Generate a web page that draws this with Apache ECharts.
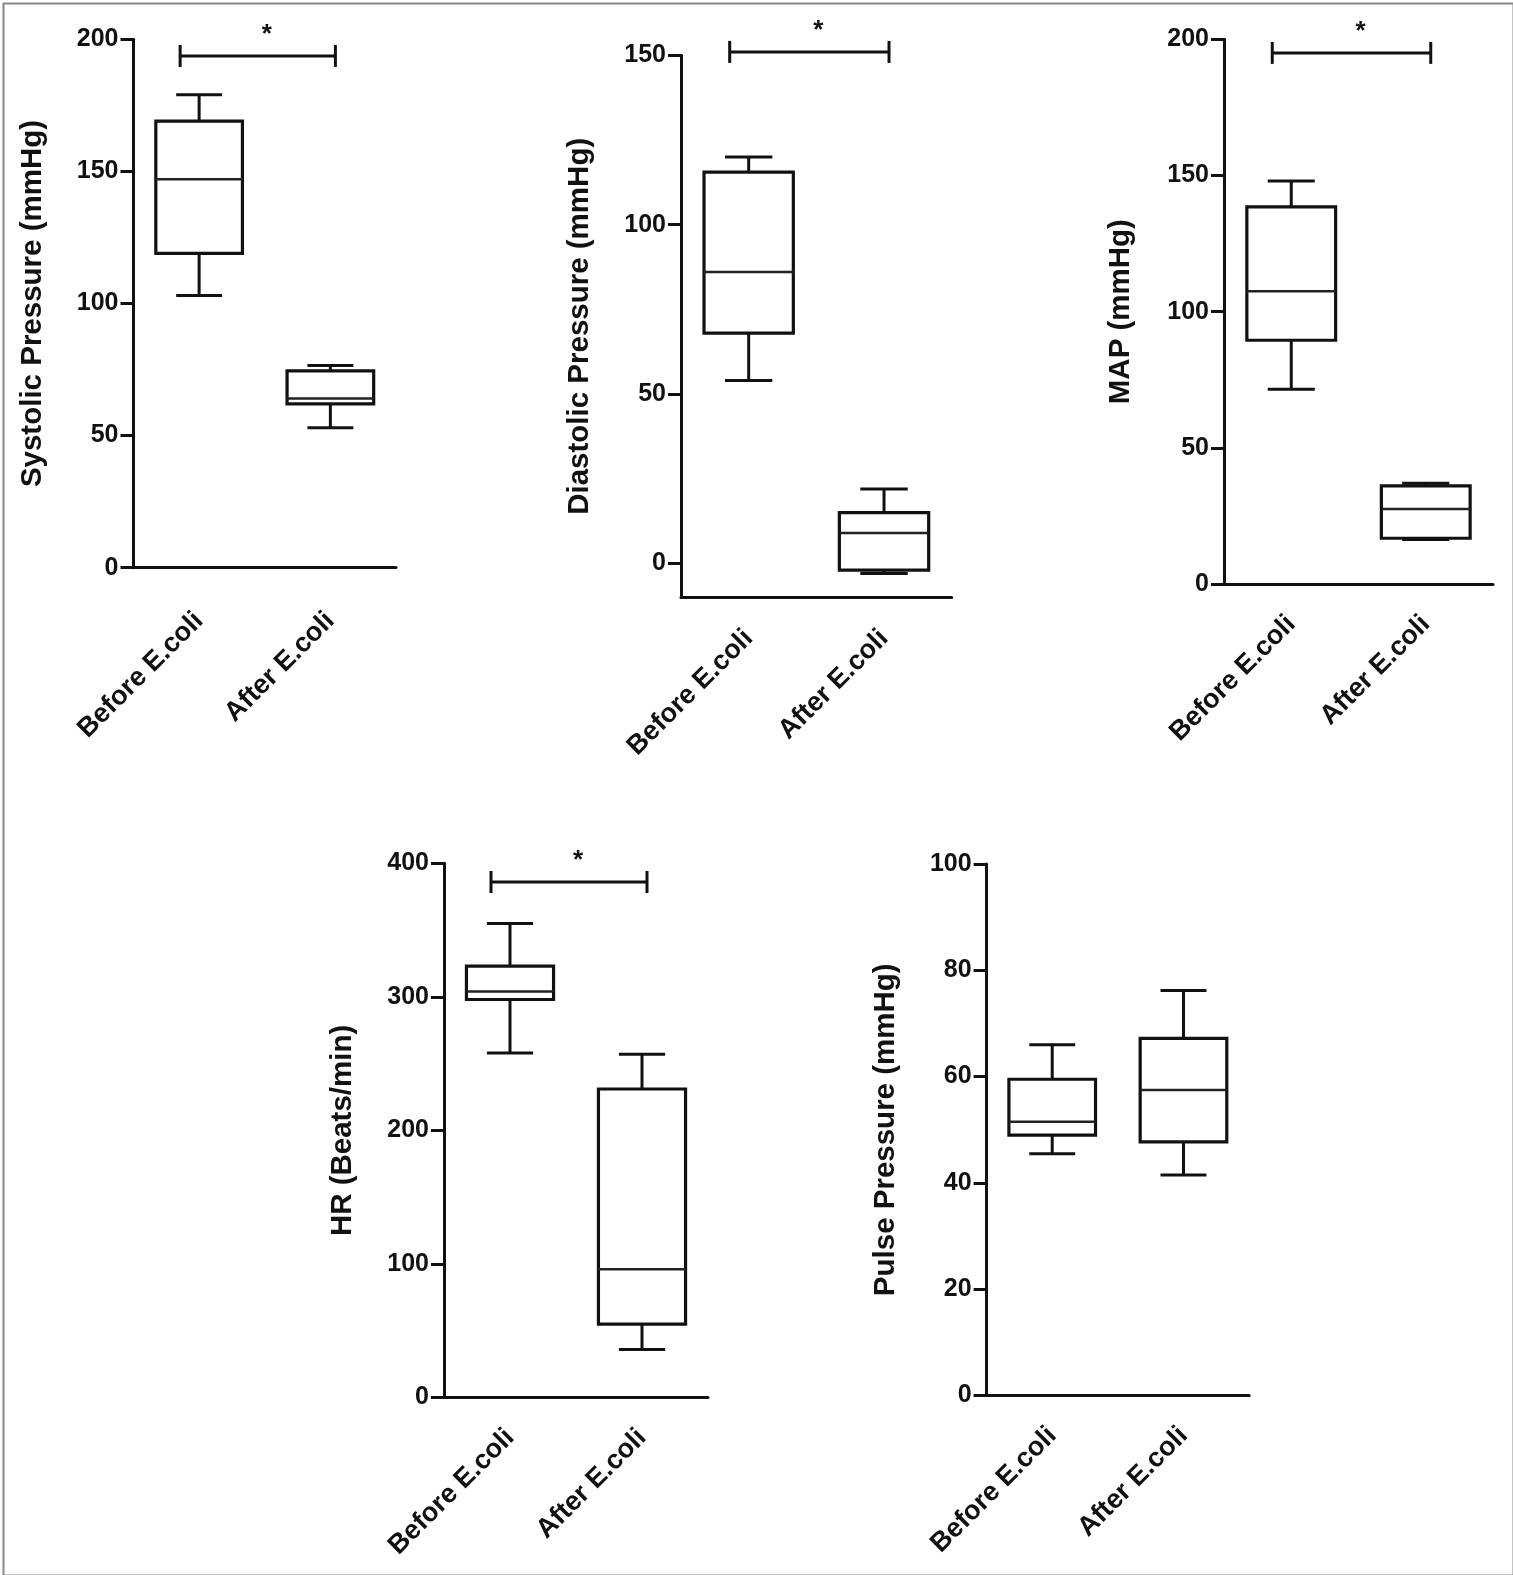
<!DOCTYPE html>
<html><head><meta charset="utf-8">
<script src="https://cdn.jsdelivr.net/npm/echarts@6/dist/echarts.min.js"></script>
<style>html,body{margin:0;padding:0;background:#fff}#c{width:1513px;height:1575px}</style>
</head><body><div id="c"></div>
<script>
// Categories
const categories = ['Before E.coli', 'After E.coli'];
// Box values: [min, Q1, median, Q3, max]
const systolicBefore = [103, 119, 147, 169, 179];
const systolicAfter = [53, 62, 64, 74.5, 76.5];
const diastolicBefore = [54, 68, 86, 115.5, 120];
const diastolicAfter = [-3, -2, 9, 15, 22];
const mapBefore = [71.5, 89.5, 107.5, 138.5, 148];
const mapAfter = [16.3, 16.8, 27.5, 36, 37];
const hrBefore = [258, 298, 304, 323, 355];
const hrAfter = [36, 55, 96, 231, 257];
const pulseBefore = [45.5, 49, 51.5, 59.5, 66];
const pulseAfter = [41.5, 47.7, 57.5, 67.2, 76.2];

// Axis titles and ticks
const yTitles = ['Systolic Pressure (mmHg)', 'Diastolic Pressure (mmHg)', 'MAP (mmHg)', 'HR (Beats/min)', 'Pulse Pressure (mmHg)'];
const yTicks1 = [0, 50, 100, 150, 200];
const yTicks2 = [0, 50, 100, 150];
const yTicks3 = [0, 50, 100, 150, 200];
const yTicks4 = [0, 100, 200, 300, 400];
const yTicks5 = [0, 20, 40, 60, 80, 100];
const yMins = [0, -10, 0, 0, 0];
// Significance bar levels (null = none)
const sigLevels = [193.7, 151, 195, 386, null];
const sigMark = '*';

const panels = [
  { before: systolicBefore, after: systolicAfter, ticks: yTicks1 },
  { before: diastolicBefore, after: diastolicAfter, ticks: yTicks2 },
  { before: mapBefore, after: mapAfter, ticks: yTicks3 },
  { before: hrBefore, after: hrAfter, ticks: yTicks4 },
  { before: pulseBefore, after: pulseAfter, ticks: yTicks5 }
];

const gridBoxes = [
  { left: 133.5, top: 39.3, width: 262.5, height: 528.4 },
  { left: 681, top: 55.3, width: 270.7, height: 542 },
  { left: 1224, top: 39.3, width: 269, height: 544.7 },
  { left: 444, top: 863.3, width: 264, height: 534.2 },
  { left: 986.6, top: 864, width: 262.5, height: 531.5 }
];
const nameGaps = [86, 86, 88, 86, 86];
const catMargins = [49, 37, 36, 36, 36];

const FONT = "'Liberation Sans', Arial, Helvetica, sans-serif";
const INK = '#111';

function renderBox(params, api) {
  const x = api.value(0);
  const c = [1, 2, 3, 4, 5].map(i => api.coord([x, api.value(i)]));
  const band = api.size([1, 0])[0];
  const half = band * 0.33;
  const cap = band * 0.175;
  const cx = c[0][0];
  const st = { stroke: INK, lineWidth: 3, fill: null };
  return {
    type: 'group',
    children: [
      { type: 'line', shape: { x1: cx, y1: c[0][1], x2: cx, y2: c[1][1] }, style: st },
      { type: 'line', shape: { x1: cx, y1: c[3][1], x2: cx, y2: c[4][1] }, style: st },
      { type: 'line', shape: { x1: cx - cap, y1: c[0][1], x2: cx + cap, y2: c[0][1] }, style: st },
      { type: 'line', shape: { x1: cx - cap, y1: c[4][1], x2: cx + cap, y2: c[4][1] }, style: st },
      { type: 'rect', shape: { x: cx - half, y: c[3][1], width: 2 * half, height: c[1][1] - c[3][1] }, style: { stroke: INK, lineWidth: 3.2, fill: '#fff' } },
      { type: 'line', shape: { x1: cx - half, y1: c[2][1], x2: cx + half, y2: c[2][1] }, style: { stroke: '#222', lineWidth: 2.5 } }
    ]
  };
}

function renderSig(params, api) {
  const p0 = api.coord([api.value(0), api.value(2)]);
  const p1 = api.coord([api.value(1), api.value(2)]);
  const x1 = p0[0] - 19, x2 = p1[0] + 5, y = p0[1];
  const st = { stroke: INK, lineWidth: 3 };
  return {
    type: 'group',
    children: [
      { type: 'line', shape: { x1: x1, y1: y, x2: x2, y2: y }, style: st },
      { type: 'line', shape: { x1: x1, y1: y - 11, x2: x1, y2: y + 11 }, style: st },
      { type: 'line', shape: { x1: x2, y1: y - 11, x2: x2, y2: y + 11 }, style: st },
      { type: 'text', x: (p0[0] + p1[0]) / 2 + 2, y: y - 21, style: { text: sigMark, fill: INK, font: 'bold 26px ' + FONT, align: 'center', verticalAlign: 'middle' } }
    ]
  };
}

const grid = [], xAxis = [], yAxis = [], series = [];
panels.forEach((p, i) => {
  grid.push(Object.assign({ containLabel: false }, gridBoxes[i]));
  xAxis.push({
    type: 'category', gridIndex: i, data: categories,
    axisLine: { onZero: false, lineStyle: { color: INK, width: 3 } },
    axisTick: { alignWithLabel: true, length: 11, lineStyle: { color: INK, width: 3 } },
    axisLabel: { rotate: 45, margin: catMargins[i], color: INK, fontFamily: FONT, fontWeight: 'bold', fontSize: 27 },
    splitLine: { show: false }
  });
  const ticks = p.ticks;
  yAxis.push({
    type: 'value', gridIndex: i,
    min: yMins[i], max: ticks[ticks.length - 1],
    name: yTitles[i], nameLocation: 'middle', nameGap: nameGaps[i],
    nameTextStyle: { color: INK, fontFamily: FONT, fontWeight: 'bold', fontSize: 29.5 },
    axisLine: { show: true, onZero: false, lineStyle: { color: INK, width: 3 } },
    axisTick: { show: true, length: 13, customValues: ticks, lineStyle: { color: INK, width: 3 } },
    axisLabel: { margin: 15, customValues: ticks, color: INK, fontFamily: FONT, fontWeight: 'bold', fontSize: 25 },
    splitLine: { show: false }
  });
  series.push({
    type: 'custom', xAxisIndex: i, yAxisIndex: i, clip: false,
    renderItem: renderBox,
    encode: { x: 0, y: [1, 2, 3, 4, 5] },
    data: [[0].concat(p.before), [1].concat(p.after)]
  });
  if (sigLevels[i] !== null) {
    series.push({
      type: 'custom', xAxisIndex: i, yAxisIndex: i, clip: false,
      renderItem: renderSig,
      encode: { x: [0, 1], y: 2 },
      data: [[0, 1, sigLevels[i]]]
    });
  }
});

const chart = echarts.init(document.getElementById('c'), null, { renderer: 'canvas' });
chart.setOption({
  backgroundColor: '#fff',
  animation: false,
  grid, xAxis, yAxis, series,
  graphic: [{
    type: 'rect', left: 1, top: 1, silent: true,
    shape: { x: 0, y: 0, width: 1510, height: 1572 },
    style: { fill: null, stroke: '#888', lineWidth: 2 }
  }]
});
</script>
</body></html>
